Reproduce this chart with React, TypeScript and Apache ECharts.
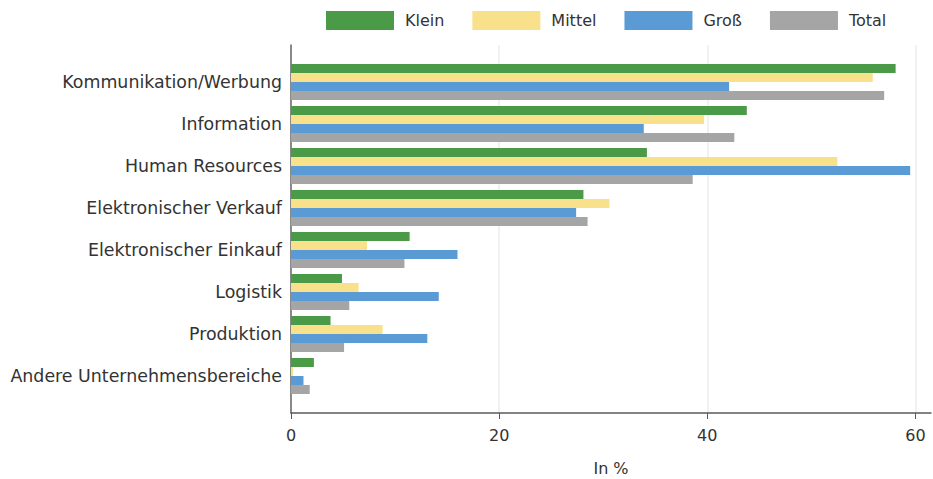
import React, { useEffect, useRef } from "react";
import * as echarts from "echarts";

const categories = [
  "Kommunikation/Werbung",
  "Information",
  "Human Resources",
  "Elektronischer Verkauf",
  "Elektronischer Einkauf",
  "Logistik",
  "Produktion",
  "Andere Unternehmensbereiche",
];
const klein = [58.1, 43.8, 34.2, 28.1, 11.4, 4.9, 3.8, 2.2];
const mittel = [55.9, 39.7, 52.5, 30.6, 7.3, 6.5, 8.8, 0.2];
const gross = [42.1, 33.9, 59.5, 27.4, 16.0, 14.2, 13.1, 1.2];
const total = [57.0, 42.6, 38.6, 28.5, 10.9, 5.6, 5.1, 1.8];
const seriesNames = ["Klein", "Mittel", "Groß", "Total"];
const colors = ["#4B9A47", "#F9E08B", "#5B9BD5", "#A5A5A5"];
const xTicks = [0, 20, 40, 60];
const xName = "In %";

const FONT = "DejaVu Sans";

export default function App() {
  const ref = useRef<HTMLDivElement>(null);
  useEffect(() => {
    if (!ref.current) return;
    const chart = echarts.init(ref.current, undefined, { renderer: "svg" });
    const values = [klein, mittel, gross, total];
    chart.setOption({
      animation: false,
      textStyle: { fontFamily: FONT },
      color: colors,
      legend: {
        left: 321,
        top: 6,
        itemWidth: 68,
        itemHeight: 19,
        itemGap: 28,
        icon: "rect",
        data: seriesNames,
        textStyle: { fontSize: 16, color: "#333", fontFamily: FONT, padding: [0, 0, 0, 6] },
      },
      grid: [
        { left: 291, top: 45, right: 2, bottom: 66, outerBoundsMode: "none", containLabel: false },
        { left: 291, top: 61, right: 2, bottom: 82, outerBoundsMode: "none", containLabel: false },
      ],
      xAxis: [
        {
          type: "value",
          gridIndex: 0,
          min: 0,
          max: 61.5,
          interval: 20,
          axisLine: { show: true, lineStyle: { color: "#595959", width: 1.5 } },
          axisTick: { show: true, length: 6, lineStyle: { color: "#595959" }, customValues: xTicks },
          axisLabel: {
            fontSize: 16,
            color: "#333",
            margin: 14,
            fontFamily: FONT,
            customValues: xTicks,
          },
          splitLine: { show: true, lineStyle: { color: "#ECECEC", width: 1.5 } },
          name: xName,
          nameLocation: "middle",
          nameGap: 47,
          nameTextStyle: { fontSize: 16, color: "#333", fontFamily: FONT },
        },
        {
          type: "value",
          gridIndex: 1,
          min: 0,
          max: 61.5,
          show: false,
          splitLine: { show: false },
        },
      ],
      yAxis: [
        {
          type: "value",
          gridIndex: 0,
          min: 0,
          max: 1,
          axisLine: { show: true, lineStyle: { color: "#666", width: 1.5 } },
          axisTick: { show: false },
          axisLabel: { show: false },
          splitLine: { show: false },
        },
        {
          type: "category",
          gridIndex: 1,
          inverse: true,
          data: categories,
          axisLine: { show: false },
          axisTick: { show: false },
          axisLabel: { fontSize: 17.4, color: "#333", margin: 9, fontFamily: FONT },
        },
      ],
      series: seriesNames.map((name, i) => ({
        name,
        type: "bar",
        xAxisIndex: 1,
        yAxisIndex: 1,
        data: values[i],
        barWidth: 9,
        barGap: "0%",
        itemStyle: { color: colors[i] },
      })),
    });
    return () => chart.dispose();
  }, []);
  return <div ref={ref} style={{ width: 933, height: 479, position: "absolute", left: 0, top: 0 }} />;
}
